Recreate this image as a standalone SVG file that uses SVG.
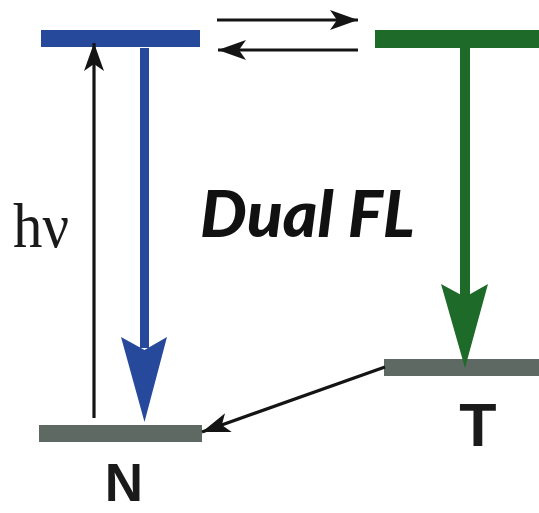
<svg xmlns="http://www.w3.org/2000/svg" width="539" height="513" viewBox="0 0 539 513">
  <defs>
    <style>
      .lvl-gray { fill: #5e6963; }
      .lvl-blue { fill: #27499b; }
      .lvl-green { fill: #1e6a28; }
      .conn { stroke: #141414; stroke-width: 3.2; fill: none; }
      .lbl { font-family: "Liberation Sans", Arial, sans-serif; font-weight: bold; fill: #1a1a1a; text-anchor: middle; }
    </style>
    <marker id="head" viewBox="-30 -11 31 22" refX="0" refY="0" markerWidth="31" markerHeight="22" markerUnits="userSpaceOnUse" orient="auto">
      <path d="M0,0 L-28,-10 L-21,0 L-28,10 Z" fill="#141414"/>
    </marker>
  </defs>
  <rect width="539" height="513" fill="#ffffff"/>

  <g id="excited-N">
    <rect class="lvl-blue" x="41" y="30" width="159" height="17"/>
  </g>
  <g id="excited-T">
    <rect class="lvl-green" x="375" y="30" width="164" height="18"/>
  </g>
  <g id="ground-N">
    <rect class="lvl-gray" x="39" y="425" width="163" height="17"/>
    <text class="lbl" x="124" y="501" font-size="53">N</text>
  </g>
  <g id="ground-T">
    <rect class="lvl-gray" x="384" y="359" width="155" height="17"/>
    <text class="lbl" x="478" y="446" font-size="61">T</text>
  </g>

  <g id="connectors">
    <line class="conn" x1="217" y1="20" x2="358" y2="20" marker-end="url(#head)"/>
    <line class="conn" x1="358" y1="50" x2="218" y2="50" marker-end="url(#head)"/>
    <line class="conn" x1="94" y1="418" x2="94" y2="43" marker-end="url(#head)"/>
    <line class="conn" x1="385" y1="367" x2="202" y2="432" marker-end="url(#head)"/>
    <g id="fl-N">
      <rect class="lvl-blue" x="140" y="48" width="9" height="300"/>
      <polygon class="lvl-blue" points="144.5,422 121,337 144.5,350 167,337"/>
    </g>
    <g id="fl-T">
      <rect class="lvl-green" x="460" y="48" width="10" height="250"/>
      <polygon class="lvl-green" points="465,368 441,284 465,297 488,284"/>
    </g>
  </g>

  <text x="13" y="247" font-family="'Liberation Serif', 'Times New Roman', serif" font-size="63" fill="#1a1a1a" textLength="56" lengthAdjust="spacingAndGlyphs">hν</text>
  <text x="200" y="237" font-family="Lato, 'Open Sans', sans-serif" font-weight="900" font-style="italic" font-size="64" fill="#111111" textLength="215" lengthAdjust="spacingAndGlyphs">Dual FL</text>
</svg>
